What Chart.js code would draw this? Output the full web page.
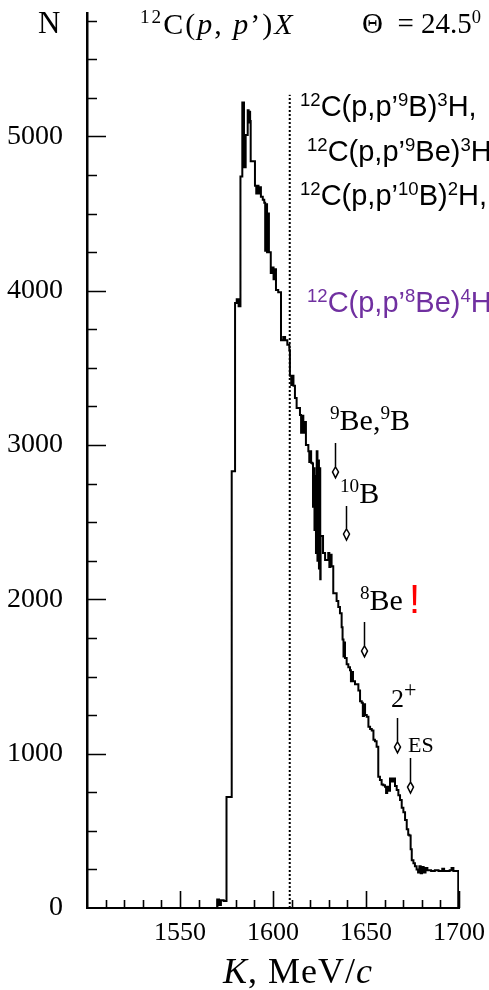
<!DOCTYPE html>
<html>
<head>
<meta charset="utf-8">
<title>12C(p,p')X spectrum</title>
<script src="https://cdn.jsdelivr.net/npm/chart.js@4.4.1/dist/chart.umd.min.js"></script>
<style>
  html, body { margin: 0; padding: 0; background: #fff; }
  #box { position: relative; width: 489px; height: 990px; overflow: hidden; }
  #spec { position: absolute; left: 0; top: 0; }
  .lbl { position: absolute; white-space: nowrap; line-height: 1; color: #000; }
  .serif { font-family: "Liberation Serif", "Times New Roman", serif; }
  .sans { font-family: "Liberation Sans", Arial, sans-serif; }
  .lbl sup { font-size: 0.64em; vertical-align: baseline; position: relative; top: -0.55em; }
  .lbl sup.big { font-size: 0.85em; top: -0.45em; }
</style>
</head>
<body>
<div id="box">
  <canvas id="spec" width="489" height="990"></canvas>

  <div class="lbl serif" style="left:38px;top:7px;font-size:31px;">N</div>
  <div class="lbl serif" style="left:140px;top:9px;font-size:30px;letter-spacing:2px;"><sup>12</sup>C(<i>p</i>, <i>p</i>’)<i>X</i></div>
  <div class="lbl serif" style="left:362px;top:9px;font-size:29px;">Θ&nbsp;&nbsp;= 24.5<sup>0</sup></div>

  <div class="lbl sans" style="left:300px;top:92px;font-size:29px;"><sup>12</sup>C(p,p’<sup>9</sup>B)<sup>3</sup>H,</div>
  <div class="lbl sans" style="left:307px;top:137px;font-size:29px;"><sup>12</sup>C(p,p’<sup>9</sup>Be)<sup>3</sup>He</div>
  <div class="lbl sans" style="left:300px;top:181px;font-size:29px;"><sup>12</sup>C(p,p’<sup>10</sup>B)<sup>2</sup>H,</div>
  <div class="lbl sans" style="left:307px;top:288px;font-size:29px;color:#7030a0;"><sup>12</sup>C(p,p’<sup>8</sup>Be)<sup>4</sup>He</div>

  <div class="lbl serif" style="left:330px;top:405px;font-size:30px;"><sup>9</sup>Be,<sup>9</sup>B</div>
  <div class="lbl serif" style="left:340px;top:478px;font-size:30px;"><sup>10</sup>B</div>
  <div class="lbl serif" style="left:360px;top:585px;font-size:30px;"><sup>8</sup>Be</div>
  <div class="lbl sans" style="left:409px;top:579px;font-size:40px;color:#ff0000;">!</div>
  <div class="lbl serif" style="left:391px;top:686px;font-size:26px;">2<sup class="big">+</sup></div>
  <div class="lbl serif" style="left:408px;top:734px;font-size:22px;">ES</div>

  <div class="lbl serif" style="left:223px;top:953px;font-size:36px;letter-spacing:1px;"><i>K</i>, MeV/<i>c</i></div>
</div>

<script>
// histogram: left edge of each step (MeV/c) and counts on that step
const kEdges = [
  1569.0, 1570.0, 1571.0, 1572.0, 1573.5, 1575.0, 1577.8, 1579.6, 1580.5, 1581.5,
  1582.5, 1583.5, 1584.4, 1585.3, 1586.4, 1586.9, 1587.4, 1587.7, 1588.0, 1590.3,
  1591.0, 1591.6, 1592.2, 1592.8, 1593.5, 1594.5, 1595.3, 1595.8, 1596.3, 1596.8,
  1597.3, 1597.8, 1598.8, 1599.8, 1600.3, 1600.8, 1601.6, 1602.8, 1604.3, 1605.5,
  1606.5, 1607.7, 1608.8, 1609.1, 1609.8, 1610.4, 1611.0, 1611.8, 1612.7, 1614.5,
  1615.1, 1615.7, 1616.3, 1616.9, 1617.7, 1619.0, 1619.5, 1620.0, 1620.5, 1621.1,
  1621.5, 1621.9, 1622.3, 1622.7, 1623.1, 1623.5, 1623.9, 1624.3, 1624.7, 1625.1,
  1625.4, 1625.6, 1626.9,
  1628.0, 1629.7, 1630.3, 1630.9, 1631.5, 1632.4, 1634.2, 1635.1, 1636.0, 1636.9,
  1637.4, 1637.9, 1638.4, 1638.7, 1639.6, 1640.5, 1641.4, 1641.9, 1642.5, 1643.0,
  1644.1, 1645.9, 1646.8, 1647.7, 1648.3, 1648.9, 1649.5, 1650.4, 1651.3, 1652.2,
  1653.1, 1654.0, 1654.8, 1655.7, 1656.6, 1657.5, 1658.4, 1659.3, 1660.2, 1660.8,
  1661.4, 1662.0, 1662.9, 1663.8, 1664.7, 1665.6, 1666.5, 1667.4, 1668.3, 1669.2,
  1670.1, 1671.0, 1671.9, 1672.7, 1673.3, 1674.0, 1674.6, 1675.5, 1676.3, 1677.2,
  1678.0, 1678.7, 1679.4, 1680.1, 1681.0, 1682.0, 1683.0, 1685.0, 1687.0, 1689.0,
  1691.0, 1692.0, 1695.0, 1696.0, 1697.0, 1699.6
];
const counts = [
  0, 55, 20, 50, 45, 720, 2830, 3920, 3945, 3900,
  4740, 5220, 4800, 5010, 5170, 5090, 5160, 5100, 4840, 4680,
  4630, 4680, 4630, 4670, 4610, 4590, 4570, 4260, 4560, 4250,
  4500, 4250, 4115, 4150, 4075, 4140, 4005, 3990, 3680, 3700,
  3680, 3650, 3615, 3450, 3390, 3450, 3385, 3305, 3240, 3195,
  3080, 3190, 3080, 3150, 3000, 2960, 2890, 2960, 2885, 2880,
  2600, 2850, 2450, 2800, 2300, 2960, 2250, 2900, 2200, 2850,
  2130, 2410, 2300,
  2255, 2300, 2210, 2290, 2215, 2040, 1990, 1950, 1910, 1820,
  1740, 1630, 1720, 1620, 1580, 1560, 1540, 1470, 1530, 1470,
  1450, 1410, 1340, 1330, 1245, 1320, 1250, 1240, 1175, 1160,
  1150, 1090, 1080, 1045, 850, 830, 800, 795, 785, 745,
  785, 760, 840, 820, 840, 790, 765, 730, 700, 650,
  620, 570, 510, 475, 470, 380, 310, 290, 270, 250,
  230, 270, 225, 265, 230, 260, 245, 240, 245, 240,
  255, 240, 245, 260, 240, 0
];

// dotted cut line
const cutK = 1609;
const cutTop = 5270;

// arrows marking the states
const arrowK = [1633.3, 1639.1, 1648.9, 1666.8, 1673.7];
const arrowTop = [3013, 2605, 1854, 1231, 972];
const arrowBottom = [2787, 2385, 1627, 1005, 745];

// axis ticks
const kTicks = [1550, 1600, 1650, 1700];
const nTicks = [0, 1000, 2000, 3000, 4000, 5000];

const kMinor = [];
for (let k = 1510; k <= 1700; k += 10) kMinor.push(k);
const nMinor = [];
for (let n = 250; n <= 5750; n += 250) nMinor.push(n);

// tick marks pointing into the plot
const innerTicks = {
  id: "innerTicks",
  afterDatasetsDraw(chart) {
    const { ctx, scales: { x, y } } = chart;
    ctx.save();
    ctx.strokeStyle = "#000";
    ctx.lineWidth = 1.6;
    ctx.beginPath();
    kMinor.forEach((k) => {
      const px = Math.round(x.getPixelForValue(k)) + 0.5;
      const len = kTicks.includes(k) ? 17 : 8;
      ctx.moveTo(px, y.bottom);
      ctx.lineTo(px, y.bottom - len);
    });
    nMinor.forEach((n) => {
      const py = Math.round(y.getPixelForValue(n)) + 0.5;
      const len = n % 1000 === 0 ? 19 : 10;
      ctx.moveTo(x.left, py);
      ctx.lineTo(x.left + len, py);
    });
    ctx.stroke();
    ctx.restore();
  },
};

const arrows = {
  id: "arrows",
  afterDatasetsDraw(chart) {
    const { ctx, scales: { x, y } } = chart;
    ctx.save();
    ctx.strokeStyle = "#000";
    ctx.lineWidth = 1.5;
    arrowK.forEach((k, i) => {
      const px = Math.round(x.getPixelForValue(k)) + 0.5;
      const top = y.getPixelForValue(arrowTop[i]);
      const bot = y.getPixelForValue(arrowBottom[i]);
      ctx.beginPath();
      ctx.moveTo(px, top);
      ctx.lineTo(px, bot - 11);
      ctx.moveTo(px, bot - 11);
      ctx.lineTo(px - 3, bot - 6);
      ctx.lineTo(px, bot);
      ctx.lineTo(px + 3, bot - 6);
      ctx.closePath();
      ctx.stroke();
    });
    ctx.restore();
  },
};

const serif = "'Liberation Serif', 'Times New Roman', serif";

// keep the plot box fixed: no extra room for tick labels
function noPad(s) {
  s.paddingTop = 0;
  s.paddingBottom = 0;
  s.paddingLeft = 0;
  s.paddingRight = 0;
}

new Chart(document.getElementById("spec"), {
  type: "line",
  data: {
    datasets: [
      {
        label: "N",
        data: kEdges.map((k, i) => ({ x: k, y: counts[i] })),
        stepped: true,
        borderColor: "#000",
        borderWidth: 2,
        borderJoinStyle: "miter",
        pointRadius: 0,
        fill: false,
      },
      {
        label: "cut",
        data: [{ x: cutK, y: 0 }, { x: cutK, y: cutTop }],
        borderColor: "#000",
        borderWidth: 2,
        borderDash: [2, 2],
        pointRadius: 0,
        fill: false,
      },
    ],
  },
  options: {
    responsive: false,
    animation: false,
    events: [],
    layout: { padding: { top: 13, right: 30, left: 0, bottom: 0 } },
    plugins: { legend: { display: false }, tooltip: { enabled: false } },
    scales: {
      x: {
        type: "linear",
        min: 1500,
        max: 1700,
        afterBuildTicks: (s) => { s.ticks = kTicks.map((v) => ({ value: v })); },
        afterFit: (s) => { s.height = 82; noPad(s); },
        grid: { drawOnChartArea: false, drawTicks: false },
        border: { color: "#000", width: 2 },
        ticks: {
          color: "#000", padding: 10, maxRotation: 0, autoSkip: false,
          font: { family: serif, size: 26 },
          callback: (v) => String(v),
        },
      },
      y: {
        min: 0,
        max: 5800,
        afterBuildTicks: (s) => { s.ticks = nTicks.map((v) => ({ value: v })); },
        afterFit: (s) => { s.width = 87; noPad(s); },
        grid: { drawOnChartArea: false, drawTicks: false },
        border: { color: "#000", width: 2.5 },
        ticks: {
          color: "#000", padding: 24,
          font: { family: serif, size: 28 },
          callback: (v) => String(v),
        },
      },
    },
  },
  plugins: [innerTicks, arrows],
});
</script>
</body>
</html>
